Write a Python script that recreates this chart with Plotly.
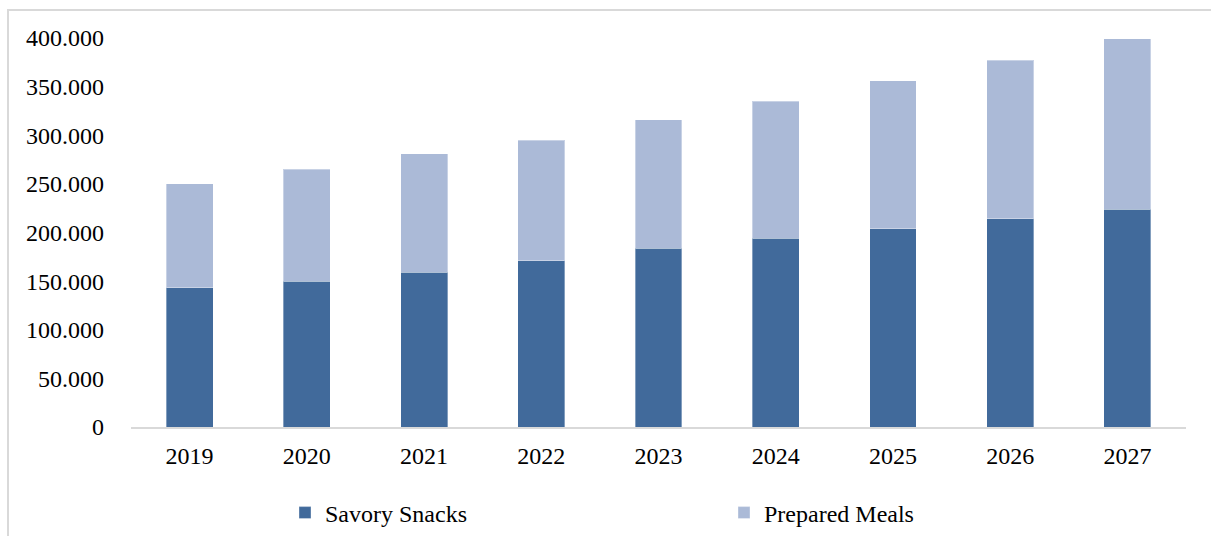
import plotly.graph_objects as go

years = ["2019", "2020", "2021", "2022", "2023", "2024", "2025", "2026", "2027"]
savory_snacks = [143000, 150000, 159000, 171000, 184000, 194000, 204000, 214000, 224000]
prepared_meals = [107000, 115000, 122000, 124000, 132000, 141000, 152000, 163000, 175000]
y_ticks = [0, 50000, 100000, 150000, 200000, 250000, 300000, 350000, 400000]

FONT = "Liberation Serif"

fig = go.Figure()
fig.add_trace(go.Bar(
    x=years, y=savory_snacks, name="Savory Snacks",
    marker=dict(color="#416A9B", line=dict(color="rgba(255,255,255,0.35)", width=1)),
))
fig.add_trace(go.Bar(
    x=years, y=prepared_meals, name="Prepared Meals",
    marker=dict(color="#ABBAD7", line=dict(color="rgba(255,255,255,0.35)", width=1)),
))

W, H = 1211, 536
L, R, T, B = 131, 25, 38, 109
pw = W - L - R
ph = H - T - B

def px_x(x):
    return (x - L) / pw

def px_y(y):
    return (H - B - y) / ph

fig.update_layout(
    width=W, height=H,
    barmode="stack", bargap=0.6,
    margin=dict(l=L, r=R, t=T, b=B, autoexpand=False),
    paper_bgcolor="white", plot_bgcolor="white",
    separators=",.",
    font=dict(family=FONT, size=24, color="#000000"),
    showlegend=True,
    legend=dict(
        orientation="h", x=px_x(285), xanchor="left", y=px_y(513), yanchor="middle",
        font=dict(family=FONT, size=24, color="#000000"),
        entrywidth=394, itemwidth=30, traceorder="normal",
        bgcolor="rgba(0,0,0,0)",
    ),
    xaxis=dict(
        showline=True, linecolor="#D9D9D9", linewidth=2,
        showgrid=False, ticks="", ticklabelstandoff=6,
        tickfont=dict(family=FONT, size=24),
    ),
    yaxis=dict(
        range=[0, 400000], tickvals=y_ticks, tickformat=",d",
        showline=False, showgrid=False, zeroline=False, ticks="",
        ticklabelstandoff=26,
        tickfont=dict(family=FONT, size=24),
    ),
    shapes=[dict(
        type="rect", xref="paper", yref="paper",
        x0=px_x(8), x1=px_x(1225), y0=px_y(560), y1=px_y(10),
        line=dict(color="#D9D9D9", width=2), fillcolor="rgba(0,0,0,0)", layer="below",
    )],
)

fig.write_html("out.html")
